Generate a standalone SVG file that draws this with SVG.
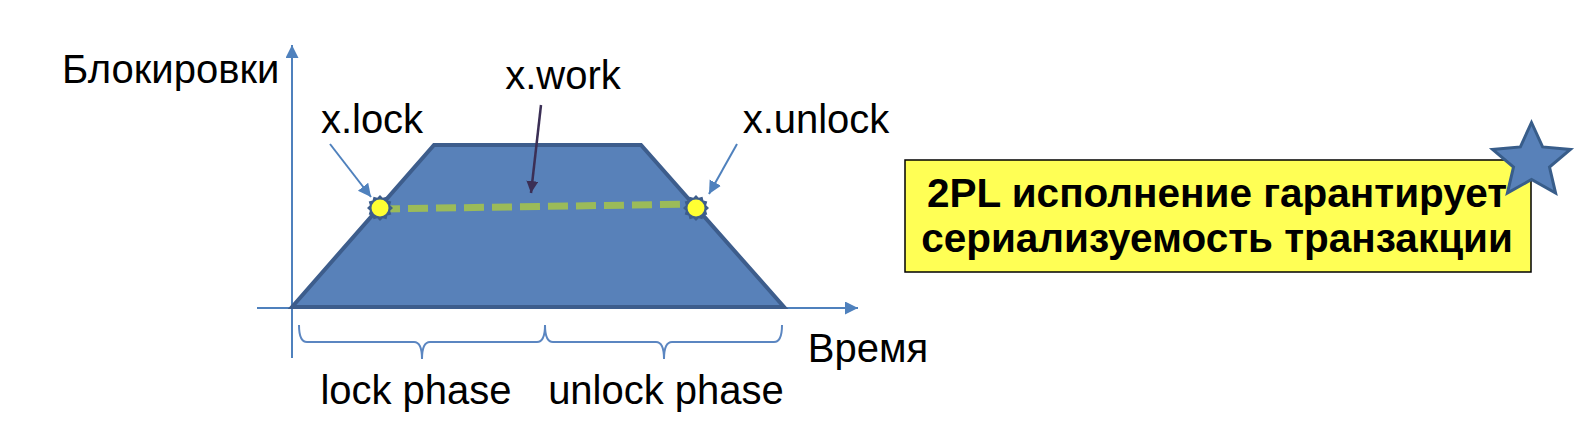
<svg xmlns="http://www.w3.org/2000/svg" width="1582" height="426" viewBox="0 0 1582 426">
<style>
.t{font-family:"Liberation Sans",Arial,sans-serif;font-size:40px;fill:#000}
.b{font-family:"Liberation Sans",Arial,sans-serif;font-size:40.5px;font-weight:bold;fill:#000}
.ax{stroke:#4F81BD;stroke-width:2;fill:none}
.br{stroke:#5B86C1;stroke-width:2;fill:none}
.ptr{stroke:#4F81BD;stroke-width:2;fill:none}
</style>
<defs>
<marker id="ah" markerUnits="userSpaceOnUse" markerWidth="14" markerHeight="14" refX="13" refY="6.5" orient="auto">
<path d="M0,0 L13,6.5 L0,13 z" fill="#4F81BD"/>
</marker>
<marker id="ahd" markerUnits="userSpaceOnUse" markerWidth="14" markerHeight="14" refX="12" refY="6" orient="auto">
<path d="M0,0 L12,6 L0,12 z" fill="#3B2F55"/>
</marker>
<g id="seal">
<polygon points="13,0 10.14,2.72 11.26,6.5 7.42,7.42 6.5,11.26 2.72,10.14 0,13 -2.72,10.14 -6.5,11.26 -7.42,7.42 -11.26,6.5 -10.14,2.72 -13,0 -10.14,-2.72 -11.26,-6.5 -7.42,-7.42 -6.5,-11.26 -2.72,-10.14 0,-13 2.72,-10.14 6.5,-11.26 7.42,-7.42 11.26,-6.5 10.14,-2.72" fill="#3D5D8C"/>
<circle r="8.5" fill="#FFFF33"/>
</g>
</defs>
<rect width="1582" height="426" fill="#fff"/>
<g id="axes">
<line class="ax" x1="292" y1="358" x2="292" y2="45" marker-end="url(#ah)"/>
<line class="ax" x1="257" y1="308" x2="858" y2="308" marker-end="url(#ah)"/>
</g>
<g id="trapezoid">
<polygon points="292,307 434,145 641,145 784,307" fill="#5881B9" stroke="#3D5D8C" stroke-width="4" stroke-linejoin="miter"/>
</g>
<g id="connectors">
<line x1="380" y1="209" x2="696" y2="204" stroke="#9BBB59" stroke-width="7" stroke-dasharray="20 8"/>
<line class="ptr" x1="330" y1="144" x2="371" y2="197" marker-end="url(#ah)"/>
<line class="ptr" x1="737" y1="144" x2="709" y2="194" marker-end="url(#ah)"/>
<line x1="541" y1="105" x2="531" y2="193" stroke="#3B2F55" stroke-width="2.5" marker-end="url(#ahd)"/>
<path class="br" d="M299,325 Q299,342 307,342 L414,342 Q422,342 422,359 Q422,342 430,342 L537,342 Q545,342 545,325"/>
<path class="br" d="M545,325 Q545,342 553,342 L656,342 Q664,342 664,359 Q664,342 672,342 L774,342 Q782,342 782,325"/>
</g>
<g id="lock-point"><use href="#seal" x="380" y="208"/></g>
<g id="unlock-point"><use href="#seal" x="696" y="208"/></g>
<g id="labels">
<text class="t" x="62" y="83">Блокировки</text>
<text class="t" x="563" y="89" text-anchor="middle">x.work</text>
<text class="t" x="372" y="133" text-anchor="middle">x.lock</text>
<text class="t" x="816" y="133" text-anchor="middle">x.unlock</text>
<text class="t" x="868" y="362" text-anchor="middle">Время</text>
<text class="t" x="416" y="404" text-anchor="middle">lock phase</text>
<text class="t" x="666" y="404" text-anchor="middle">unlock phase</text>
</g>
<g id="note">
<rect x="905" y="160" width="626" height="112" fill="#FFFF55" stroke="#000" stroke-width="1.5"/>
<text class="b" x="1217" y="207" text-anchor="middle">2PL исполнение гарантирует</text>
<text class="b" x="1217" y="252" text-anchor="middle">сериализуемость транзакции</text>
</g>
<g id="star">
<polygon points="1531.5,122.5 1542.6,146.9 1570.4,149.5 1549.5,167.1 1555.6,193.1 1531.5,179.5 1507.4,193.1 1513.5,167.1 1492.6,149.5 1520.4,146.9" fill="#5881B9" stroke="#385D8A" stroke-width="3" stroke-linejoin="miter"/>
</g>
</svg>
